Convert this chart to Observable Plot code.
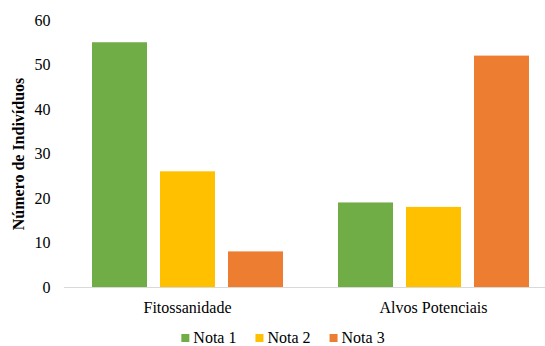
<!DOCTYPE html>
<html>
<head>
<meta charset="utf-8">
<script src="https://cdn.jsdelivr.net/npm/d3@7"></script>
<script src="https://cdn.jsdelivr.net/npm/@observablehq/plot@0.6"></script>
<style>
  html, body { margin: 0; padding: 0; background: white; overflow: hidden; }
  #chart { width: 545px; }
  #chart svg { overflow: hidden; display: block; }
  #chart [aria-label="y-axis label"] text, #chart [aria-label="y-axis label"] { font-weight: bold; }
</style>
</head>
<body>
<div id="chart"></div>
<script>
const grupos = ["Fitossanidade", "Alvos Potenciais"];
const notas = ["Nota 1", "Nota 2", "Nota 3"];
const nota1 = [55, 19];
const nota2 = [26, 18];
const nota3 = [8, 52];
const yTicks = [0, 10, 20, 30, 40, 50, 60];
const cores = ["#70AD47", "#FFC000", "#ED7D31"];

const series = [nota1, nota2, nota3];
const data = grupos.flatMap((g, i) => notas.map((n, j) => ({grupo: g, nota: n, valor: series[j][i]})));

const chart = Plot.plot({
  width: 545,
  height: 346,
  marginLeft: 63,
  marginRight: -11,
  marginTop: 20,
  marginBottom: 59,
  style: {fontFamily: "Liberation Serif, serif", fontSize: "16px", color: "#000", background: "white"},
  fx: {domain: grupos, padding: 0, label: null, axis: "bottom", tickSize: 0, tickPadding: 14},
  x: {domain: notas, paddingInner: 0.197, paddingOuter: 0.4, axis: null},
  y: {domain: [0, 60], ticks: yTicks, tickSize: 0, tickPadding: 14, label: "Número de Indivíduos", labelArrow: "none", labelAnchor: "center", labelOffset: 52},
  color: {domain: notas, range: cores},
  marks: [
    Plot.barY(data, {fx: "grupo", x: "nota", y: "valor", fill: "nota"}),
    Plot.ruleY([0], {stroke: "#D9D9D9"})
  ]
});
document.getElementById("chart").appendChild(chart);

// Legend (swatches) from the chart's color scale, placed below the plot area
const color = chart.scale("color");
const g = d3.select(chart).append("g").attr("aria-label", "legend").attr("fill", "#000").attr("text-anchor", "start");
const sw = 8, gapText = 4, gapItem = 19, baseY = 343;
let xpos = 0;
color.domain.forEach((d, i) => {
  const it = g.append("g").attr("transform", `translate(${xpos},0)`);
  it.append("rect").attr("x", 0).attr("y", baseY - 9).attr("width", sw).attr("height", sw).attr("fill", color.range[i]);
  const t = it.append("text").attr("x", sw + gapText).attr("y", baseY).attr("text-anchor", "start").text(d);
  const w = t.node().getComputedTextLength();
  xpos += sw + gapText + w + gapItem;
});
const total = xpos - gapItem;
g.attr("transform", `translate(${283 - total / 2},0)`);
</script>
</body>
</html>
